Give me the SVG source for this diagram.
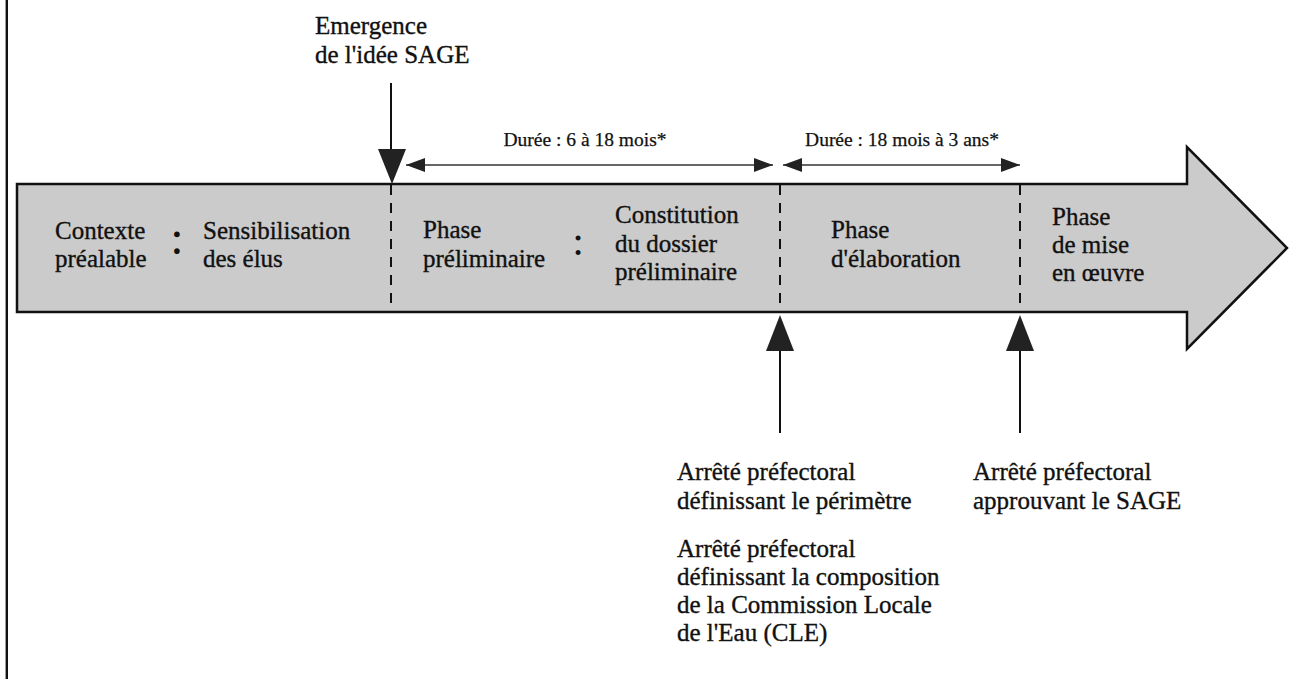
<svg xmlns="http://www.w3.org/2000/svg" width="1290" height="679" viewBox="0 0 1290 679">
<style>
.t{font-family:"Liberation Serif","Times New Roman",serif;font-size:25px;fill:#111;stroke:#111;stroke-width:0.35px;}
.s{font-family:"Liberation Serif","Times New Roman",serif;font-size:19.5px;fill:#111;stroke:#111;stroke-width:0.25px;text-anchor:middle;}
.col{font-family:"Liberation Serif","Times New Roman",serif;fill:#111;text-anchor:middle;}
.dash{stroke:#111;stroke-width:2;stroke-dasharray:10 8;fill:none;}
.ln{stroke:#111;stroke-width:2;fill:none;}
.thin{stroke:#333;stroke-width:1.5;fill:none;}
.hd{fill:#222;}
</style>
<defs>
<marker id="ah" viewBox="0 0 19 14" refX="19" refY="7" markerWidth="19" markerHeight="14" markerUnits="userSpaceOnUse" orient="auto-start-reverse">
<path d="M0,0 L19,7 L0,14 Z" fill="#222"/>
</marker>
</defs>
<rect width="1290" height="679" fill="#fff"/>
<line x1="6.8" y1="0" x2="6.8" y2="679" stroke="#111" stroke-width="2.4"/>

<g id="timeline">
<path d="M17,184 L1187,184 L1187,147 L1287,248 L1187,349 L1187,312 L17,312 Z" fill="#cbcbcb" stroke="#111" stroke-width="2.5" stroke-linejoin="miter"/>
<line class="dash" x1="391" y1="185" x2="391" y2="310"/>
<line class="dash" x1="780" y1="185" x2="780" y2="310"/>
<line class="dash" x1="1020" y1="185" x2="1020" y2="310"/>
</g>

<g id="contexte">
<text class="t" x="55" y="239">Contexte</text>
<text class="t" x="55" y="267">préalable</text>
<text class="col" x="177" y="254" font-size="48">:</text>
<text class="t" x="203" y="239">Sensibilisation</text>
<text class="t" x="203" y="267">des élus</text>
</g>

<g id="preliminaire">
<text class="t" x="423" y="238">Phase</text>
<text class="t" x="423" y="267">préliminaire</text>
<text class="col" x="578" y="255" font-size="42">:</text>
<text class="t" x="615" y="223">Constitution</text>
<text class="t" x="615" y="252">du dossier</text>
<text class="t" x="615" y="280">préliminaire</text>
</g>

<g id="elaboration">
<text class="t" x="831" y="238">Phase</text>
<text class="t" x="831" y="267">d'élaboration</text>
</g>

<g id="miseenoeuvre">
<text class="t" x="1052" y="225">Phase</text>
<text class="t" x="1052" y="253">de mise</text>
<text class="t" x="1052" y="281">en œuvre</text>
</g>

<g id="emergence">
<text class="t" x="315" y="34">Emergence</text>
<text class="t" x="315" y="63">de l'idée SAGE</text>
</g>

<g id="duree1">
<text class="s" x="585" y="146">Durée : 6 à 18 mois*</text>
</g>
<g id="duree2">
<text class="s" x="902" y="146">Durée : 18 mois à 3 ans*</text>
</g>

<g id="arrete1">
<text class="t" x="677" y="480">Arrêté préfectoral</text>
<text class="t" x="677" y="509">définissant le périmètre</text>
<text class="t" x="677" y="557">Arrêté préfectoral</text>
<text class="t" x="677" y="585">définissant la composition</text>
<text class="t" x="677" y="613">de la Commission Locale</text>
<text class="t" x="677" y="641">de l'Eau (CLE)</text>
</g>

<g id="arrete2">
<text class="t" x="973" y="480">Arrêté préfectoral</text>
<text class="t" x="973" y="509">approuvant le SAGE</text>
</g>

<g id="connectors">
<line class="ln" x1="391" y1="83" x2="391" y2="151"/>
<path class="hd" d="M378,149 L406,149 L392,184 Z"/>
<line class="thin" x1="406" y1="165" x2="773" y2="165" marker-start="url(#ah)" marker-end="url(#ah)"/>
<line class="thin" x1="783" y1="165" x2="1020" y2="165" marker-start="url(#ah)" marker-end="url(#ah)"/>
<line class="ln" x1="780" y1="349" x2="780" y2="433"/>
<path class="hd" d="M766,351 L794,351 L780,315 Z"/>
<line class="ln" x1="1020" y1="349" x2="1020" y2="433"/>
<path class="hd" d="M1006,351 L1034,351 L1020,315 Z"/>
</g>
</svg>
